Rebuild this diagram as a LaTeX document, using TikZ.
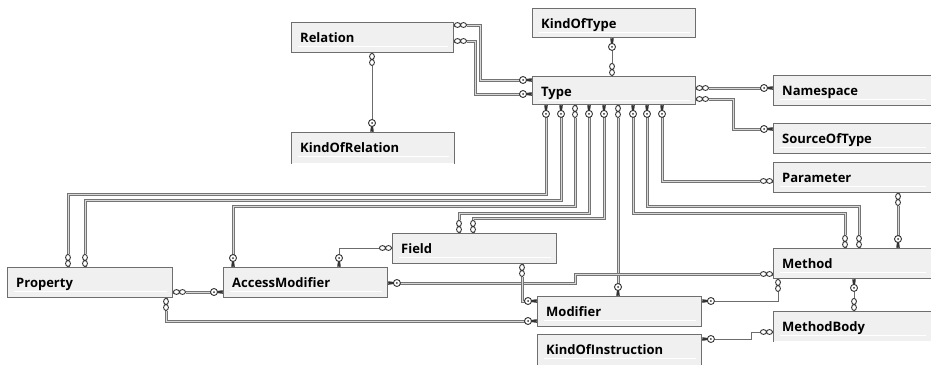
\documentclass[tikz,border=0pt]{standalone}
\usepackage{fontspec}
\setmainfont{Open Sans}
\usetikzlibrary{decorations.markings}

\definecolor{tblfill}{HTML}{F0F0F0}
\definecolor{tblline}{HTML}{6E6E6E}
\definecolor{relouter}{HTML}{747474}
\definecolor{relinner}{HTML}{D8D8D8}
\definecolor{thinline}{HTML}{6C6C6C}
\definecolor{symline}{HTML}{333333}

\tikzset{
  x=1pt, y=-1pt,
  tbl/.style={draw=tblline, line width=0.9pt, fill=tblfill, anchor=north west,
    inner sep=0pt,
    path picture={\draw[white, line width=1.3pt]
      ([xshift=7pt,yshift=-24pt]path picture bounding box.north west) --
      ([xshift=-5pt,yshift=-24pt]path picture bounding box.north east);}},
  tblopen/.style={tbl, draw=none},
  tbltitle/.style={anchor=base west, inner sep=0pt,
    font=\bfseries\fontsize{13}{15}\selectfont},
  % many-side end: two small rings next to the table edge
  fkend/.pic={
    \fill[white] (0.7,-2.2) rectangle (12.8,2.2);
    \draw[symline, line width=0.9pt, fill=white]
      (3.5,0) ellipse [x radius=3, y radius=2.4]
      (9.6,0) ellipse [x radius=3, y radius=2.4];},
  % key end: ring with a dot and a short bit into the table
  pkend/.pic={
    \fill[white] (-12,-2.2) rectangle (-0.7,2.2);
    \fill[symline] (-6,-1) -- (-0.5,-1.8) -- (-0.5,1.8) -- (-6,1) -- cycle;
    \draw[symline, line width=0.9pt, fill=white] (-9,0) circle (3.5);
    \fill[symline] (-9,0) circle (1);},
  ends/.style={postaction={decorate, decoration={markings,
      mark=at position 0 with {\pic[transform shape]{fkend};},
      mark=at position 1 with {\pic[transform shape]{pkend};}}}},
  rel/.style={draw=relouter, line width=1pt, double=relinner,
    double distance=1pt, line join=miter, ends},
  relthin/.style={draw=thinline, line width=1pt, ends},
}

% name, left, top, width, height, title
\newcommand\dbtable[6]{%
  \node[tbl, minimum width=#4pt, minimum height=#5pt] (#1) at (#2,#3) {};
  \node[tbltitle] (#1-title) at ([xshift=9pt,yshift=-20.5pt]#1.north west) {#6};}
\newcommand\dbtableopen[6]{%
  \node[tblopen, minimum width=#4pt, minimum height=#5pt] (#1) at (#2,#3) {};
  \draw[tblline, line width=0.9pt] (#1.south west) |- (#1.north east) -- (#1.south east);
  \node[tbltitle] (#1-title) at ([xshift=9pt,yshift=-20.5pt]#1.north west) {#6};}

\begin{document}
\begin{tikzpicture}
\fill[white] (0,0) rectangle (931,364);
\useasboundingbox (0,0) rectangle (931,364);

% tables
\dbtable{Relation}{291}{22}{162}{30}{Relation}
\dbtable{KindOfType}{532}{8}{163}{29}{KindOfType}
\dbtable{Type}{532}{76}{163}{28}{Type}
\dbtable{Namespace}{773}{75}{157.5}{30}{Namespace}
\dbtable{SourceOfType}{773}{123}{157.5}{30}{SourceOfType}
\dbtable{Parameter}{773}{162}{157.5}{30}{Parameter}
\dbtableopen{KindOfRelation}{291}{132}{163}{31}{KindOfRelation}
\dbtable{Property}{7}{267}{165}{30}{Property}
\dbtable{AccessModifier}{223}{267}{164}{30}{AccessModifier}
\dbtable{Field}{392}{233}{164}{30}{Field}
\dbtable{Method}{773}{248}{157.5}{30}{Method}
\dbtable{Modifier}{537}{296}{164}{30}{Modifier}
\dbtableopen{KindOfInstruction}{537}{334}{164}{32}{KindOfInstruction}
\dbtableopen{MethodBody}{773}{311}{157.5}{30}{MethodBody}

% relationships, each drawn from the referencing table to the referenced one
\draw[rel] (Relation.east |- 0,25) -| (480,80) -- (Type.west |- 0,80);
\draw[rel] (Relation.east |- 0,41) -| (475,94) -- (Type.west |- 0,94);
\draw[relthin] (Relation.south -| 372,0) -- (KindOfRelation.north -| 372,0);
\draw[relthin] (Type.north -| 612,0) -- (KindOfType.south -| 612,0);
\draw[rel] (Type.east |- 0,88) -- (Namespace.west |- 0,88);
\draw[rel] (Type.east |- 0,99) -| (733,129) -- (SourceOfType.west |- 0,129);
\draw[rel] (Parameter.west |- 0,181) -| (Type.south -| 662,0);
\draw[rel] (Method.north -| 859,0) |- (647,206) -- (Type.south -| 647,0);
\draw[rel] (Method.north -| 845,0) |- (633,213) -- (Type.south -| 633,0);
\draw[rel] (Parameter.south -| 898,0) -- (Method.north -| 898,0);
\draw[rel] (Type.south -| 618,0) -- (Modifier.north -| 618,0);
\draw[rel] (Property.north -| 68,0) |- (546,194) -- (Type.south -| 546,0);
\draw[rel] (Property.north -| 85,0) |- (561,200) -- (Type.south -| 561,0);
\draw[rel] (Type.south -| 575,0) |- (233,206) -- (AccessModifier.north -| 233,0);
\draw[rel] (Field.north -| 459,0) |- (589,213) -- (Type.south -| 589,0);
\draw[rel] (Field.north -| 473,0) |- (604,218) -- (Type.south -| 604,0);
\draw[relthin] (Field.west |- 0,248) -| (AccessModifier.north -| 339,0);
\draw[rel] (Property.east |- 0,292) -- (AccessModifier.west |- 0,292);
\draw[rel] (Method.west |- 0,274) -| (575,283) -- (AccessModifier.east |- 0,283);
\draw[rel] (Property.south -| 166,0) |- (Modifier.west |- 0,321);
\draw[rel] (Field.south -| 522,0) |- (Modifier.west |- 0,301);
\draw[relthin] (Method.south -| 778,0) |- (Modifier.east |- 0,301);
\draw[relthin] (MethodBody.north -| 854,0) -- (Method.south -| 854,0);
\draw[relthin] (MethodBody.west |- 0,332) -| (751,339) -- (KindOfInstruction.east |- 0,339);
\end{tikzpicture}
\end{document}
